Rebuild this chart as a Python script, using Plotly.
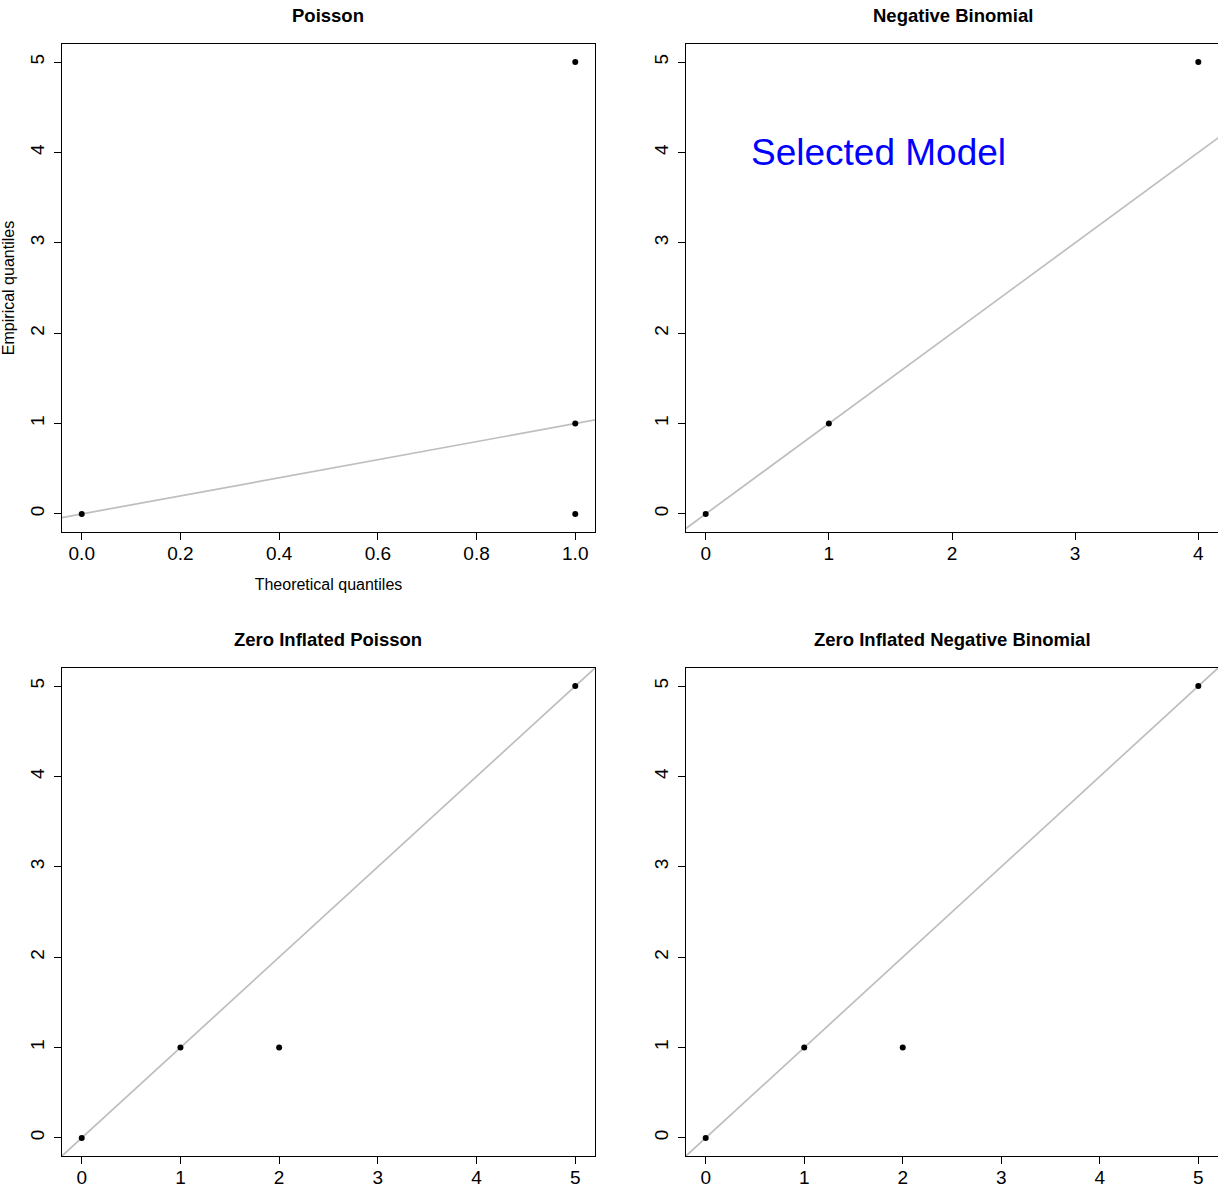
import plotly.graph_objects as go

W, H = 1218, 1188

titles = ["Poisson", "Negative Binomial", "Zero Inflated Poisson", "Zero Inflated Negative Binomial"]

# Q-Q points (theoretical, empirical)
pois_x = [0, 1, 1, 1]
pois_y = [0, 0, 1, 5]
nb_x = [0, 1, 4]
nb_y = [0, 1, 5]
zip_x = [0, 1, 2, 5]
zip_y = [0, 1, 1, 5]
zinb_x = [0, 1, 2, 5]
zinb_y = [0, 1, 1, 5]

xs = [pois_x, nb_x, zip_x, zinb_x]
ys = [pois_y, nb_y, zip_y, zinb_y]

# reference lines (intercept, slope)
ref_intercepts = [0, 0, 0, 0]
ref_slopes = [1, 1, 1, 1]

x_ticks = [[0, 0.2, 0.4, 0.6, 0.8, 1.0], [0, 1, 2, 3, 4], [0, 1, 2, 3, 4, 5], [0, 1, 2, 3, 4, 5]]
x_ticktext = [["0.0", "0.2", "0.4", "0.6", "0.8", "1.0"], ["0", "1", "2", "3", "4"],
              ["0", "1", "2", "3", "4", "5"], ["0", "1", "2", "3", "4", "5"]]
y_ticks = [0, 1, 2, 3, 4, 5]

FONT = "Liberation Sans, Arial, Helvetica, sans-serif"
TICK_SIZE = 19
TITLE_SIZE = 18.5
LAB_SIZE = 16

# panel boxes in pixels (left, right, top, bottom)
boxes = [(62, 595, 44, 532), (686, 1219, 44, 532), (62, 595, 668, 1156), (686, 1219, 668, 1156)]

fig = go.Figure()
layout = dict(width=W, height=H, margin=dict(l=0, r=0, t=0, b=0, autoexpand=False),
              paper_bgcolor="white", plot_bgcolor="white", showlegend=False,
              font=dict(family=FONT, color="black"))
annotations = []

for i in range(4):
    n = i + 1
    xa = "x" if n == 1 else f"x{n}"
    ya = "y" if n == 1 else f"y{n}"
    xmin, xmax = min(xs[i]), max(xs[i])
    ymin, ymax = min(ys[i]), max(ys[i])
    xpad = 0.04 * (xmax - xmin)
    ypad = 0.04 * (ymax - ymin)
    xr = [xmin - xpad, xmax + xpad]
    yr = [ymin - ypad, ymax + ypad]
    # reference line across a wide span (clipped to the plot area)
    lx = [xr[0] - 10, xr[1] + 10]
    ly = [ref_intercepts[i] + ref_slopes[i] * v for v in lx]
    fig.add_trace(go.Scatter(x=lx, y=ly, mode="lines", line=dict(color="#bebebe", width=1.7),
                             xaxis=xa, yaxis=ya, hoverinfo="skip"))
    fig.add_trace(go.Scatter(x=xs[i], y=ys[i], mode="markers",
                             marker=dict(color="black", size=6),
                             xaxis=xa, yaxis=ya, cliponaxis=False))
    l, r, t, b = boxes[i]
    right_panel = i in (1, 3)
    xkey = "xaxis" if n == 1 else f"xaxis{n}"
    ykey = "yaxis" if n == 1 else f"yaxis{n}"
    xaxis = dict(domain=[l / W, min(r / W, 1.0)], range=xr, anchor=ya, automargin=False,
                 showgrid=False, zeroline=False, showline=True, mirror=True,
                 linecolor="black", linewidth=1, ticks="outside", ticklen=7,
                 tickcolor="black", tickwidth=1, tickvals=x_ticks[i], ticktext=x_ticktext[i],
                 ticklabelstandoff=-3,
                 tickfont=dict(size=TICK_SIZE, family=FONT, color="black"))
    yaxis = dict(domain=[1 - b / H, 1 - t / H], range=yr, anchor=xa, automargin=False,
                 showgrid=False, zeroline=False, showline=True, mirror=(not right_panel),
                 linecolor="black", linewidth=1, ticks="outside", ticklen=7,
                 tickcolor="black", tickwidth=1, tickvals=y_ticks,
                 ticktext=[str(v) for v in y_ticks], tickangle=-90, ticklabelstandoff=2,
                 tickfont=dict(size=TICK_SIZE, family=FONT, color="black"))
    if i == 0:
        xaxis["title"] = dict(text="Theoretical quantiles", font=dict(size=LAB_SIZE, family=FONT), standoff=16)
        yaxis["title"] = dict(text="Empirical quantiles", font=dict(size=LAB_SIZE, family=FONT), standoff=12)
    layout[xkey] = xaxis
    layout[ykey] = yaxis
    annotations.append(dict(text=f"<b>{titles[i]}</b>", xref="paper", yref="paper",
                            x=((l + r) / 2) / W, y=1 - (t - 29) / H,
                            xanchor="center", yanchor="middle", showarrow=False,
                            font=dict(size=TITLE_SIZE, family=FONT, color="black")))

annotations.append(dict(text="Selected Model", xref="x2", yref="y2", x=1.4, y=4.0,
                        xanchor="center", yanchor="middle", showarrow=False,
                        font=dict(size=37, family=FONT, color="blue")))
layout["annotations"] = annotations
fig.update_layout(**layout)
fig.write_html("out.html", config={"displayModeBar": False},
               post_script="document.body.style.margin='0';document.body.style.overflow='hidden';")
